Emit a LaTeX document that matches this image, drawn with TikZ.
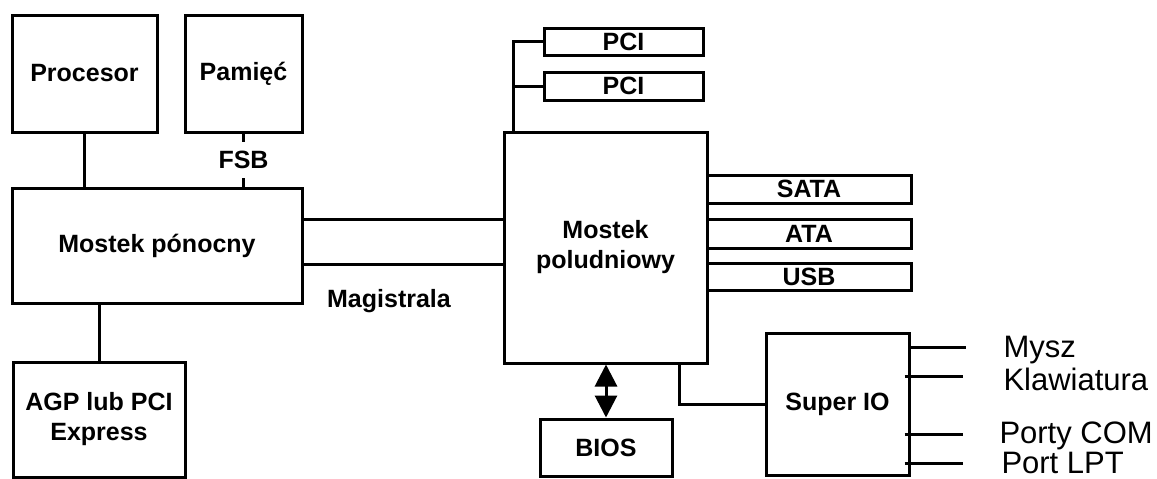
\documentclass[tikz,border=0pt]{standalone}
\usepackage{fontspec}
\setmainfont{Liberation Sans}
\usetikzlibrary{arrows.meta}

\begin{document}
\begin{tikzpicture}[x=1pt,y=-1pt,line width=3pt,
    blok/.style={draw,line width=3pt,inner sep=0pt,align=center,font=\bfseries\fontsize{25}{30}\selectfont},
    etykieta/.style={font=\bfseries\fontsize{25}{30}\selectfont},
    port/.style={anchor=base west,inner sep=0pt,font=\fontsize{31}{36}\selectfont},
    grot/.tip={Triangle[width=22pt,length=22pt]}]
    \useasboundingbox (0,0) rectangle (1157,479);

    \node[blok,minimum width=145pt,minimum height=117pt] (proc) at (84.5,73.5) {Procesor};
    \node[blok,minimum width=117pt,minimum height=117pt] (mem) at (243.5,73.5) {Pamięć};
    \node[blok,minimum width=290pt,minimum height=115pt] (nb) at (157,245.5) {Mostek pónocny};
    \node[blok,minimum width=172pt,minimum height=115pt] (agp) at (99,419.5) {AGP lub PCI\\Express};
    \node[blok,minimum width=203pt,minimum height=231pt] (sb) at (605.5,247.5) {Mostek\\poludniowy};
    \node[blok,minimum width=159pt,minimum height=27pt] (pcia) at (623.5,41.5) {PCI};
    \node[blok,minimum width=159pt,minimum height=28pt] (pcib) at (623.5,86) {PCI};
    \node[blok,minimum width=204pt,minimum height=28pt] (sata) at (809,189) {SATA};
    \node[blok,minimum width=204pt,minimum height=29pt] (ata) at (809,233.5) {ATA};
    \node[blok,minimum width=204pt,minimum height=27pt] (usb) at (809,276.5) {USB};
    \node[blok,minimum width=132pt,minimum height=57pt] (bios) at (606,447.5) {BIOS};
    \node[blok,minimum width=143pt,minimum height=142pt] (sio) at (837.5,404) {Super IO};

    \draw (proc.south) -- (proc.south |- nb.north);
    \draw (mem.south) -- node[etykieta,fill=white,inner xsep=2pt,inner ysep=9pt] (fsb) {FSB} (mem.south |- nb.north);
    \draw (agp.north) -- (agp.north |- nb.south);

    \coordinate (busa) at ([yshift=26.5pt]nb.east);
    \coordinate (busb) at ([yshift=-18.5pt]nb.east);
    \draw (busa) -- (busa -| sb.west);
    \draw (busb) -- (busb -| sb.west);
    \node[etykieta,anchor=base] (mag) at (389,307) {Magistrala};

    \coordinate (pcibus) at ([xshift=11pt]sb.north west);
    \draw (pcibus) |- (pcia.west);
    \draw (pcib.west) -- (pcib.west -| pcibus);

    \draw[grot-grot] (bios.north |- sb.south) -- (bios.north);
    \draw ([xshift=-29pt]sb.south east) |- (sio.west);

    \coordinate (mysz) at (966,347);
    \coordinate (klaw) at (963,376);
    \coordinate (com) at (963,434);
    \coordinate (lpt) at (963,463);
    \draw (sio.east |- mysz) -- (mysz);
    \draw[shorten <=-6pt] (sio.east |- klaw) -- (klaw);
    \draw[shorten <=-6pt] (sio.east |- com) -- (com);
    \draw[shorten <=-6pt] (sio.east |- lpt) -- (lpt);
    \node[port] (lmysz) at (1002,357) {Mysz};
    \node[port] (lklaw) at (1002,390) {Klawiatura};
    \node[port] (lcom) at (998,443) {Porty COM};
    \node[port] (llpt) at (1000,473) {Port LPT};

\end{tikzpicture}
\end{document}
